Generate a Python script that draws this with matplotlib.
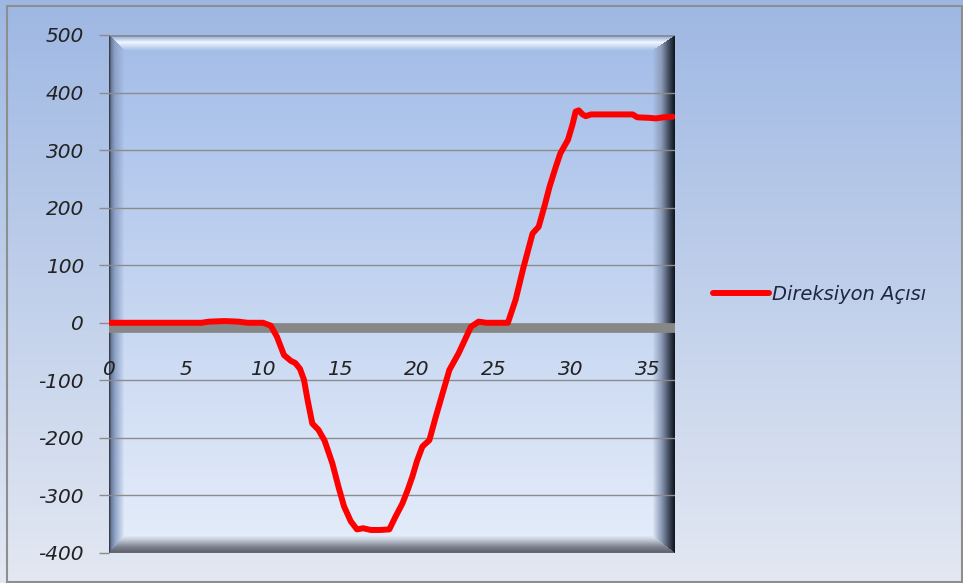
import numpy as np
import matplotlib
matplotlib.use("Agg")
import matplotlib.pyplot as plt
import matplotlib.transforms as mtransforms
from matplotlib.patches import Rectangle

plt.rcParams["axes.unicode_minus"] = False

# values
zaman = [0, 2, 4, 6, 6.5, 7.5, 8.4, 9, 10, 10.5, 10.9, 11.36, 11.8, 12.1, 12.4,
         12.66, 12.9, 13.2, 13.6, 14.0, 14.5, 14.9, 15.26, 15.7, 16.1, 16.5, 17.0,
         17.6, 18.2, 18.6, 19.05, 19.4, 19.7, 20.0, 20.35, 20.8, 21.2, 21.6, 22.1,
         22.7, 23.1, 23.5, 24.0, 24.5, 25.0, 25.9, 26.4, 26.9, 27.5, 27.9, 28.3,
         28.6, 29.0, 29.3, 29.8, 30.1, 30.3, 30.5, 30.75, 30.95, 31.3, 32, 33,
         34.0, 34.3, 35.1, 35.5, 36.0, 36.6]
aci = [0, 0, 0, 0, 2, 3, 2, 0, 0, -5, -24, -56, -66, -70, -80,
       -99, -135, -175, -186, -205, -244, -285, -319, -345, -359, -357, -360,
       -360, -359, -337, -314, -290, -267, -240, -215, -204, -165, -128, -82,
       -53, -30, -7, 2, 0, 0, 0, 40, 95, 155, 167, 205,
       236, 270, 294, 318, 345, 367, 369, 362, 359, 362, 362, 362,
       362, 357, 356, 355, 357, 358]
seri_adi = "Direksiyon Açısı"
y_ticks = [-400, -300, -200, -100, 0, 100, 200, 300, 400, 500]
x_ticks = [0, 5, 10, 15, 20, 25, 30, 35]

W_PX, H_PX = 963, 583
fig = plt.figure(figsize=(W_PX / 100, H_PX / 100), dpi=100)

# outer background gradient
bg = fig.add_axes([0, 0, 1, 1], zorder=-10)
g = np.linspace(0, 1, 256)[:, None]
top = np.array([0.62, 0.72, 0.89])
bot = np.array([0.89, 0.91, 0.95])
bg_img = top[None, None, :] * (1 - g[..., None]) + bot[None, None, :] * g[..., None]
bg.imshow(bg_img, extent=(0, 1, 0, 1), aspect="auto")
bg.set_axis_off()
fig.patches.append(Rectangle((7 / W_PX, 1 - 582 / H_PX), 955 / W_PX, 576 / H_PX,
                             transform=fig.transFigure, fill=False,
                             edgecolor="#8e8e8e", linewidth=1.5, zorder=5))

# plot area
left, right, top_px, bot_px = 109, 675, 35, 553
ax = fig.add_axes([left / W_PX, 1 - bot_px / H_PX,
                   (right - left) / W_PX, (bot_px - top_px) / H_PX])

# bevel image for the plot area
H, W = bot_px - top_px, right - left
yy, xx = np.mgrid[0:H, 0:W]
c_top = np.array([0.64, 0.74, 0.91])
c_bot = np.array([0.90, 0.93, 0.98])
f = (yy / (H - 1))[..., None]
img = c_top * (1 - f) + c_bot * f

widths = {"l": 15.0, "r": 22.0, "t": 15.0, "b": 17.0}
dist = {"l": xx / widths["l"], "r": (W - 1 - xx) / widths["r"],
        "t": yy / widths["t"], "b": (H - 1 - yy) / widths["b"]}
stack = np.stack([dist[k] for k in "lrtb"])
nearest = np.argmin(stack, axis=0)
tmin = np.min(stack, axis=0)

edges = {
    "l": ([0, 0.12, 0.35, 1.0], [[0.22, 0.25, 0.30], [0.42, 0.48, 0.60], [0.55, 0.63, 0.78], None]),
    "r": ([0, 0.25, 0.6, 1.0], [[0.07, 0.09, 0.13], [0.25, 0.29, 0.36], [0.55, 0.61, 0.72], None]),
    "t": ([0, 0.1, 0.45, 1.0], [[0.30, 0.35, 0.45], [0.62, 0.70, 0.84], [0.94, 0.97, 1.0], None]),
    "b": ([0, 0.35, 0.8, 1.0], [[0.36, 0.38, 0.42], [0.50, 0.52, 0.57], [0.80, 0.83, 0.88], None]),
}
for i, k in enumerate("lrtb"):
    stops, cols = edges[k]
    mask = (nearest == i) & (tmin < 1)
    t = tmin[mask]
    base = img[mask]
    out = np.empty_like(base)
    for ch in range(3):
        vals = [c[ch] if c is not None else np.nan for c in cols]
        res = np.interp(t, stops[:-1], vals[:-1])
        # blend last segment towards the base colour
        seg = t >= stops[-2]
        w = (t[seg] - stops[-2]) / (stops[-1] - stops[-2])
        res[seg] = vals[-2] * (1 - w) + base[seg, ch] * w
        out[:, ch] = res
    img[mask] = out

ax.imshow(img, extent=(0, 1, 0, 1), transform=ax.transAxes, aspect="auto",
          zorder=0, interpolation="bilinear")

# horizontal gridlines
for v in y_ticks:
    if v != 0:
        ax.axhline(v, color="#8c8c8c", linewidth=1.0, zorder=1)

# gray category axis at zero
off = mtransforms.offset_copy(ax.transData, fig=fig, x=0, y=-5, units="dots")
ax.plot([0, 36.75], [0, 0], color="#878787", linewidth=7.0, transform=off,
        solid_capstyle="butt", zorder=2)

ax.plot(zaman, aci, color="#ff0000", linewidth=4.3, solid_joinstyle="round",
        solid_capstyle="round", zorder=3, label=seri_adi)

ax.set_xlim(0, 36.75)
ax.set_ylim(-400, 500)
ax.set_yticks(y_ticks)
ax.set_xticks(x_ticks)
ax.spines["bottom"].set_position(("data", 0))
for s in ax.spines.values():
    s.set_visible(False)

font = "DejaVu Sans"
ax.tick_params(axis="y", length=7, width=1, color="#8c8c8c", pad=11,
               labelsize=14.5, labelcolor="#222222")
ax.tick_params(axis="x", length=0, pad=27, labelsize=14.5, labelcolor="#222222")
for lab in ax.get_yticklabels() + ax.get_xticklabels():
    lab.set_fontstyle("italic")
    lab.set_fontfamily(font)

leg = fig.legend(loc="center left", bbox_to_anchor=(713 / W_PX, 1 - 294 / H_PX),
                 frameon=False, handlelength=2.9, handletextpad=0.15,
                 borderpad=0, borderaxespad=0,
                 prop={"family": font, "style": "italic", "size": 14})
for txt in leg.get_texts():
    txt.set_color("#1e2640")

fig.savefig("out.png", dpi=100)
